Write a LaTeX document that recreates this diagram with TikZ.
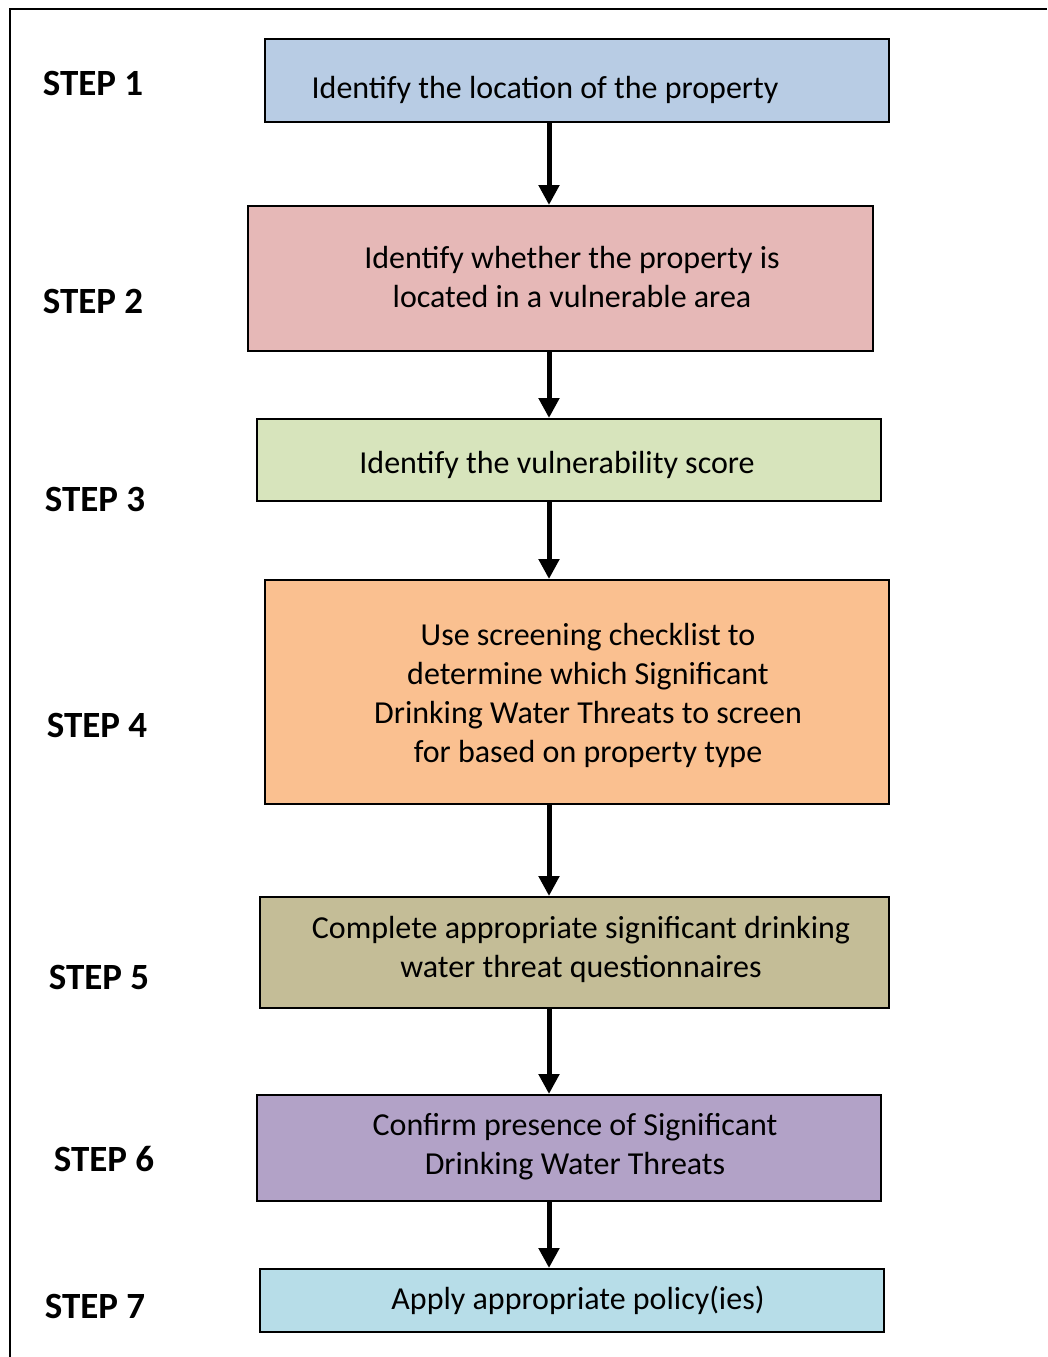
\documentclass[tikz,border=0pt]{standalone}
\usepackage{fontspec}
\setmainfont{Carlito}
\usetikzlibrary{arrows.meta}

\definecolor{boxblue}{HTML}{B8CCE4}
\definecolor{boxred}{HTML}{E6B8B7}
\definecolor{boxgreen}{HTML}{D7E4BC}
\definecolor{boxorange}{HTML}{FAC090}
\definecolor{boxtan}{HTML}{C4BD97}
\definecolor{boxpurple}{HTML}{B2A2C7}
\definecolor{boxcyan}{HTML}{B7DDE8}

\begin{document}
\begin{tikzpicture}[x=1pt,y=-1pt]
\tikzstyle{every node}+=[inner sep=0pt]
\tikzstyle{stepbox}=[draw=black, line width=2pt, minimum width=624pt]
\tikzstyle{boxtext}=[align=center, font=\fontsize{32}{39}\selectfont]
\tikzstyle{steplabel}=[font=\fontsize{37}{40}\selectfont\bfseries]
\tikzstyle{flow}=[line width=5pt, -{Triangle[width=20pt,length=20pt]}]
\useasboundingbox (0,0) rectangle (1047,1357);
\draw [line width=2pt] (9.5,1357) -- (9.5,8.5) -- (1047,8.5);
% boxes
\node [stepbox, fill=boxblue, minimum height=83pt] (b1) at (577,80.5) {};
\node [stepbox, fill=boxred, minimum width=625pt, minimum height=145pt] (b2) at (560.5,278.5) {};
\node [stepbox, fill=boxgreen, minimum height=82pt] (b3) at (569,460) {};
\node [stepbox, fill=boxorange, minimum height=224pt] (b4) at (577,692) {};
\node [stepbox, fill=boxtan, minimum width=629pt, minimum height=111pt] (b5) at (574.5,952.5) {};
\node [stepbox, fill=boxpurple, minimum height=106pt] (b6) at (569,1148) {};
\node [stepbox, fill=boxcyan, minimum height=63pt] (b7) at (572,1300.5) {};
% texts
\node [boxtext] (t1) at (545,90) {Identify the location of the property};
\node [boxtext] (t2) at (572,277) {Identify whether the property is\\located in a vulnerable area};
\node [boxtext] (t3) at (557,465) {Identify the vulnerability score};
\node [boxtext] (t4) at (588,695) {Use screening checklist to\\determine which Significant\\Drinking Water Threats to screen\\for based on property type};
\node [boxtext] (t5) at (581,949) {Complete appropriate significant drinking\\water threat questionnaires};
\node [boxtext] (t6) at (575,1147) {Confirm presence of Significant\\Drinking Water Threats};
\node [boxtext] (t7) at (578,1300) {Apply appropriate policy(ies)};
% step labels
\node [steplabel] (s1) at (93,83) {STEP 1};
\node [steplabel] (s2) at (93,301) {STEP 2};
\node [steplabel] (s3) at (95,499) {STEP 3};
\node [steplabel] (s4) at (97,725) {STEP 4};
\node [steplabel] (s5) at (99,977) {STEP 5};
\node [steplabel] (s6) at (104,1159) {STEP 6};
\node [steplabel] (s7) at (95,1306) {STEP 7};
% arrows
\draw [flow] (b1.south -| 549,0) -- (b2.north -| 549,0);
\draw [flow] (b2.south -| 549,0) -- (b3.north -| 549,0);
\draw [flow] (b3.south -| 549,0) -- (b4.north -| 549,0);
\draw [flow] (b4.south -| 549,0) -- (b5.north -| 549,0);
\draw [flow] (b5.south -| 549,0) -- (b6.north -| 549,0);
\draw [flow] (b6.south -| 549,0) -- (b7.north -| 549,0);
\end{tikzpicture}
\end{document}
